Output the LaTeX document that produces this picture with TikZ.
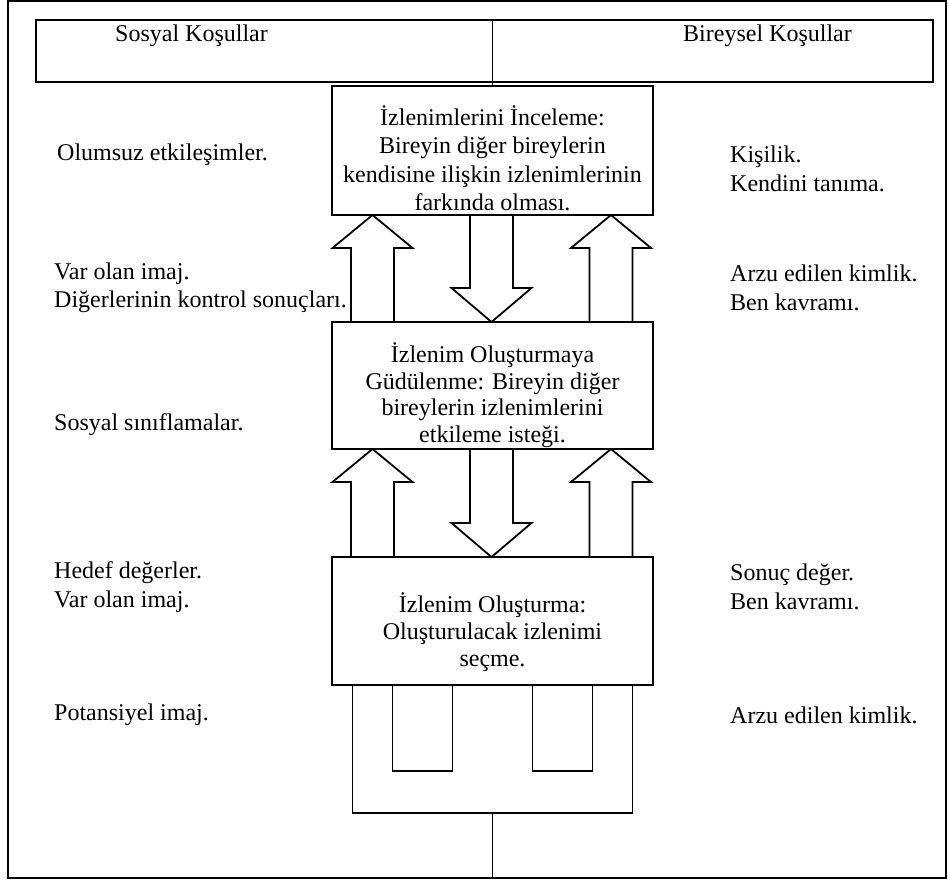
\documentclass[tikz,border=0pt]{standalone}
\usepackage{fontspec}
\setmainfont{Liberation Serif}
\usetikzlibrary{calc,positioning}

% block arrows between two stage boxes
\newcommand{\blkup}[3]{%
  \draw[blk] let \p1=($(#1.north)+(#3,0)$), \p2=($(#2.south)+(#3,0)$) in
    (\x1-21.5,\y1) -- (\x1-21.5,\y2-33) -- (\x1-40,\y2-33) -- (\x1,\y2)
    -- (\x1+40,\y2-33) -- (\x1+21.5,\y2-33) -- (\x1+21.5,\y1) -- cycle;}
\newcommand{\blkdown}[3]{%
  \draw[blk] let \p1=($(#1.south)+(#3,0)$), \p2=($(#2.north)+(#3,0)$) in
    (\x1-21.5,\y1) -- (\x1-21.5,\y2+34) -- (\x1-40,\y2+34) -- (\x1,\y2)
    -- (\x1+40,\y2+34) -- (\x1+21.5,\y2+34) -- (\x1+21.5,\y1) -- cycle;}

\begin{document}
\begin{tikzpicture}[
      x=1pt,y=1pt,
      font=\fontsize{24}{28.5}\selectfont,
      stage/.style={rectangle,draw=black,line width=1.8pt,outer sep=0pt,
                    minimum width=321pt,minimum height=128pt,align=center,inner sep=0pt},
      frm/.style={rectangle,draw=black,line width=1.8pt,outer sep=0pt,inner sep=0pt},
      side/.style={anchor=west,align=left,inner sep=0pt},
      blk/.style={draw=black,line width=1.8pt},
      link/.style={draw=black,line width=1.8pt}
    ]
    \useasboundingbox (0,0) rectangle (948,-881);

    % Frame and header
    \node[frm,minimum width=938pt,minimum height=877pt] (frame) at (477,-439.5) {};
    \node[frm,minimum width=897pt,minimum height=62pt] (hdr) at (484.5,-51) {};
    \node[side] (social) at (115,-36) {Sosyal Koşullar};
    \node[side] (indiv) at (683,-36) {Bireysel Koşullar};

    % Stages
    \node[stage,minimum height=129pt] (monitor) at (492.5,-150.5)
      {\rule{0pt}{35.5pt}İzlenimlerini İnceleme:\\Bireyin diğer bireylerin\\kendisine ilişkin izlenimlerinin\\farkında olması.};
    \node[stage,minimum height=127pt,font=\fontsize{24}{26.5}\selectfont] (motive) at (492.5,-385.5)
      {\rule{0pt}{39.5pt}İzlenim Oluşturmaya\\Güdülenme: Bireyin diğer\\bireylerin izlenimlerini\\etkileme isteği.};
    \node[stage,font=\fontsize{24}{27}\selectfont] (construct) at (492.5,-621)
      {\rule{0pt}{41.5pt}İzlenim Oluşturma:\\Oluşturulacak izlenimi\\seçme.};

    \draw[link] (hdr.north -| monitor.north) -- (monitor.north);

    % Arrows between stages
    \blkup{motive}{monitor}{-120}
    \blkup{motive}{monitor}{118.5}
    \blkdown{monitor}{motive}{-1}
    \blkup{construct}{motive}{-120}
    \blkup{construct}{motive}{118.5}
    \blkdown{motive}{construct}{-1}

    % Fork below the last stage
    \node[frm,minimum width=280pt,minimum height=128pt,anchor=north] (fork) at (construct.south) {};
    \node[frm,minimum width=60pt,minimum height=86pt,anchor=north] (forkL) at ($(construct.south)+(-70,0)$) {};
    \node[frm,minimum width=60pt,minimum height=86pt,anchor=north] (forkR) at ($(construct.south)+(70,0)$) {};
    \draw[link] (fork.south) -- (fork.south |- frame.south);

    % Social conditions
    \node[side] (s1) at (57,-155) {Olumsuz etkileşimler.};
    \node[side] (s2) at (54,-288) {Var olan imaj.\\Diğerlerinin kontrol sonuçları.};
    \node[side] (s3) at (54,-425) {Sosyal sınıflamalar.};
    \node[side] (s4) at (54,-587) {Hedef değerler.\\Var olan imaj.};
    \node[side] (s5) at (54,-715) {Potansiyel imaj.};

    % Individual conditions
    \node[side] (i1) at (730,-169) {Kişilik.\\Kendini tanıma.};
    \node[side] (i2) at (730,-288) {Arzu edilen kimlik.\\Ben kavramı.};
    \node[side] (i3) at (730,-587) {Sonuç değer.\\Ben kavramı.};
    \node[side] (i4) at (730,-715) {Arzu edilen kimlik.};

  \end{tikzpicture}
\end{document}
